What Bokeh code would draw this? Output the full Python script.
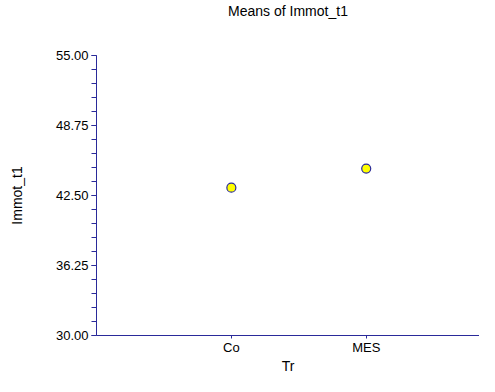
from bokeh.plotting import figure
from bokeh.models import Range1d, FixedTicker, ColumnDataSource, Title
from bokeh.embed import file_html
from bokeh.resources import INLINE

categories = ["Co", "MES"]
means = [43.2, 44.9]
y_major = [30.00, 36.25, 42.50, 48.75, 55.00]
y_minor = [30 + 1.25 * i for i in range(21)]

xpos = [i + 1 for i in range(len(categories))]
src = ColumnDataSource(dict(x=xpos, y=means, cat=categories))

AXC = "#2a2a9a"
FONT = "Liberation Sans"

p = figure(width=479, height=376, output_backend="svg", toolbar_location=None,
           x_range=Range1d(0, 2.84), y_range=Range1d(30, 55),
           title=None,
           min_border_left=96, min_border_right=0, min_border_top=55, min_border_bottom=36)
p.outline_line_color = None
p.grid.visible = False
p.background_fill_color = "white"
p.border_fill_color = "white"

spacer = Title(text=" ", text_font=FONT, text_font_size="13px", standoff=18)
p.add_layout(spacer, "above")
main_title = Title(text="Means of Immot_t1", align="center", vertical_align="top",
                   text_font=FONT, text_font_size="14px", text_font_style="normal",
                   text_color="black", standoff=0, offset=11)
p.add_layout(main_title, "above")

p.scatter(x="x", y="y", source=src, size=9, fill_color="#ffff00",
          line_color=AXC, line_width=1.2)

xa = p.xaxis[0]
xa.ticker = FixedTicker(ticks=xpos, minor_ticks=[])
xa.major_label_overrides = {x: c for x, c in zip(xpos, categories)}
xa.axis_label = "Tr"
ya = p.yaxis[0]
ya.ticker = FixedTicker(ticks=y_major, minor_ticks=y_minor)
ya.major_label_overrides = {v: f"{v:.2f}" for v in y_major}
ya.axis_label = "Immot_t1"

for ax in (xa, ya):
    ax.axis_line_color = AXC
    ax.major_tick_line_color = AXC
    ax.minor_tick_line_color = AXC
    ax.major_tick_in = 0
    ax.minor_tick_in = 0
    ax.major_label_text_font = FONT
    ax.major_label_text_font_size = "13px"
    ax.major_label_text_color = "black"
    ax.axis_label_text_font = FONT
    ax.axis_label_text_font_size = "14px"
    ax.axis_label_text_font_style = "normal"
    ax.axis_label_text_color = "black"

xa.major_tick_out = 3
xa.major_label_standoff = 1
xa.axis_label_standoff = 0
ya.major_tick_out = 5
ya.minor_tick_out = 5
ya.major_label_standoff = 3
ya.axis_label_standoff = 28

open("out.html", "w").write(file_html(p, INLINE))
